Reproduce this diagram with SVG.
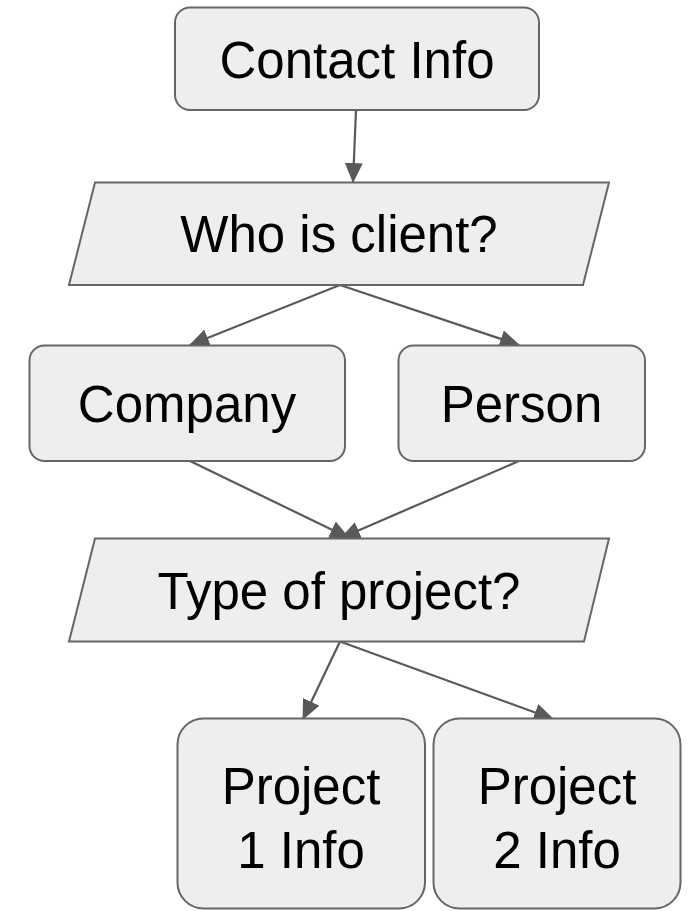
<svg xmlns="http://www.w3.org/2000/svg" width="690" height="911" viewBox="0 0 690 911">
  <style>
    .box { fill: #eeeeee; stroke: #666666; stroke-width: 2; }
    .lbl { font-family: "Liberation Sans", Arial, sans-serif; font-size: 51px; fill: #000000; text-anchor: middle; }
    .edge { fill: none; stroke: #595959; stroke-width: 2.2; marker-end: url(#arrow); }
  </style>
  <defs>
    <marker id="arrow" markerUnits="userSpaceOnUse" markerWidth="20" markerHeight="18" refX="19" refY="9" orient="auto">
      <path d="M0,0 L20,9 L0,18 z" fill="#595959"/>
    </marker>
  </defs>
  <rect width="690" height="911" fill="#ffffff"/>

  <g id="connectors">
    <line class="edge" x1="356" y1="110" x2="353" y2="182"/>
    <line class="edge" x1="340" y1="285" x2="190" y2="345"/>
    <line class="edge" x1="340" y1="285" x2="519" y2="345"/>
    <line class="edge" x1="190" y1="461" x2="349" y2="538"/>
    <line class="edge" x1="519" y1="461" x2="341" y2="538"/>
    <line class="edge" x1="340" y1="641.5" x2="303" y2="719"/>
    <line class="edge" x1="340" y1="641.5" x2="553" y2="719"/>
  </g>

  <g id="contact-info">
    <rect class="box" x="175" y="7.5" width="364" height="102.5" rx="15"/>
    <text class="lbl" x="357" y="78">Contact Info</text>
  </g>

  <g id="who-is-client">
    <polygon class="box" points="95,182.5 609,182.5 583,285 69,285"/>
    <text class="lbl" x="339" y="252">Who is client?</text>
  </g>

  <g id="company">
    <rect class="box" x="29.5" y="345.5" width="315.5" height="115.5" rx="15"/>
    <text class="lbl" x="187" y="422">Company</text>
  </g>

  <g id="person">
    <rect class="box" x="398.5" y="345.5" width="246.5" height="115.5" rx="15"/>
    <text class="lbl" x="521.5" y="422">Person</text>
  </g>

  <g id="type-of-project">
    <polygon class="box" points="95,538.5 609,538.5 584,641.5 69,641.5"/>
    <text class="lbl" x="339" y="609">Type of project?</text>
  </g>

  <g id="project-1-info">
    <rect class="box" x="177.5" y="718.5" width="247.5" height="190" rx="26"/>
    <text class="lbl" x="301" y="804">Project</text>
    <text class="lbl" x="301" y="867.5">1 Info</text>
  </g>

  <g id="project-2-info">
    <rect class="box" x="433.5" y="718.5" width="247" height="190" rx="26"/>
    <text class="lbl" x="557" y="804">Project</text>
    <text class="lbl" x="557" y="867.5">2 Info</text>
  </g>
</svg>
